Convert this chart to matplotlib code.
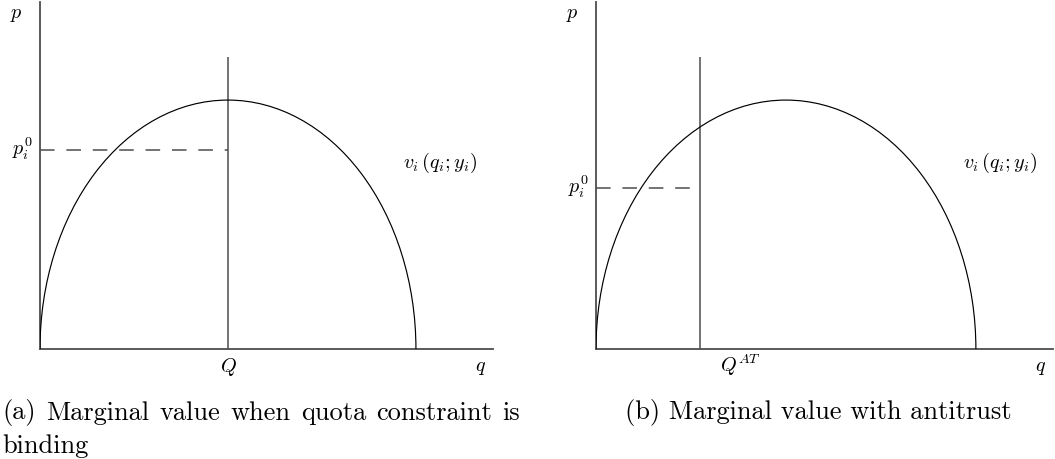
import matplotlib
matplotlib.use("Agg")
import matplotlib.pyplot as plt
from matplotlib.patches import Arc

plt.rcParams["mathtext.fontset"] = "cm"
plt.rcParams["lines.scale_dashes"] = False

# Marginal value curve: elliptical arc on [0, q_end] with peak height 1
panel_names = ["a", "b"]
curve_start = [0.0, 0.0]
curve_end = [1.0, 1.0]
curve_peak = [1.0, 1.0]
quota_q = [0.5, 0.274]           # position of the quota line
quota_top = [1.173, 1.173]        # height of the quota line
reservation_p = [0.799, 0.647]    # p_i^0
quota_labels = [r"$Q$", r"$Q^{AT}$"]
caption_a_lines = ["(a) Marginal value when quota constraint is", "binding"]
caption_b = "(b) Marginal value with antitrust"
x_max = [1.205, 1.203]
y_max = 1.394

W, H = 1055, 459
fig = plt.figure(figsize=(W / 100, H / 100), dpi=100)

# axes boxes in pixels: left, right, top, bottom
boxes = [(40, 493, 2, 349), (596, 1053, 2, 349)]

axis_col = "#4d4d4d"
label_fs = 14.5
for i, (l, r, t, b) in enumerate(boxes):
    ax = fig.add_axes([l / W, 1 - b / H, (r - l) / W, (b - t) / H])
    ax.set_xlim(0, x_max[i])
    ax.set_ylim(0, y_max)
    for s in ("top", "right"):
        ax.spines[s].set_visible(False)
    for s in ("left", "bottom"):
        ax.spines[s].set_color(axis_col)
        ax.spines[s].set_linewidth(1.3)
    ax.set_xticks([])
    ax.set_yticks([])
    ax.patch.set_visible(False)

    q0, q1, pk = curve_start[i], curve_end[i], curve_peak[i]
    arc = Arc(((q0 + q1) / 2, 0), q1 - q0, 2 * pk, theta1=0, theta2=180,
              color="black", lw=0.85, zorder=3)
    ax.add_patch(arc)

    ax.vlines(quota_q[i], 0, quota_top[i], color=axis_col, lw=1.1, zorder=2)
    ax.hlines(reservation_p[i], 0, quota_q[i], color=axis_col, lw=1.1,
              linestyles=[(0, (10.5, 8.5))], zorder=2)

    ax.annotate(r"$p_i^0$", xy=(0, reservation_p[i]), xycoords="data",
                xytext=(-5, 1), textcoords="offset points",
                ha="right", va="center", fontsize=label_fs,
                annotation_clip=False)
    if i == 0:
        ax.annotate(quota_labels[i], xy=(quota_q[i], 0), xytext=(0, -13),
                    textcoords="offset points", ha="center", va="center",
                    fontsize=label_fs, annotation_clip=False)
    else:
        ax.annotate(quota_labels[i], xy=(quota_q[i], 0), xytext=(14, -12),
                    textcoords="offset points", ha="left", va="center",
                    fontsize=label_fs, annotation_clip=False)
    ax.annotate(r"$q$", xy=(1, 0), xycoords="axes fraction",
                xytext=(-9, -13), textcoords="offset points",
                ha="center", va="center", fontsize=label_fs,
                annotation_clip=False)
    ax.annotate(r"$p$", xy=(0, 1), xycoords="axes fraction",
                xytext=(-17, -9), textcoords="offset points",
                ha="center", va="center", fontsize=label_fs,
                annotation_clip=False)
    ax.text(1.064, 0.747, r"$v_i\,(q_i;y_i)$", ha="center", va="center",
            fontsize=label_fs)

cap_fs = 19
cap_kw = dict(fontsize=cap_fs, family="cmr10")

# First caption line is justified across the left column
renderer = fig.canvas.get_renderer()
words = caption_a_lines[0].split()
left_px, right_px = 2, 520
y1 = 1 - 413 / H
word_texts = [fig.text(0, y1, w, ha="left", va="center", **cap_kw) for w in words]
widths = [t.get_window_extent(renderer).width for t in word_texts]
gap = (right_px - left_px - sum(widths)) / (len(words) - 1)
x = left_px
for t, w in zip(word_texts, widths):
    t.set_x(x / W)
    x += w + gap

fig.text(left_px / W, 1 - 446 / H, caption_a_lines[1], ha="left", va="center",
         **cap_kw)
fig.text(818 / W, 1 - 413 / H, caption_b, ha="center", va="center", **cap_kw)

fig.savefig("out.png", dpi=100)
